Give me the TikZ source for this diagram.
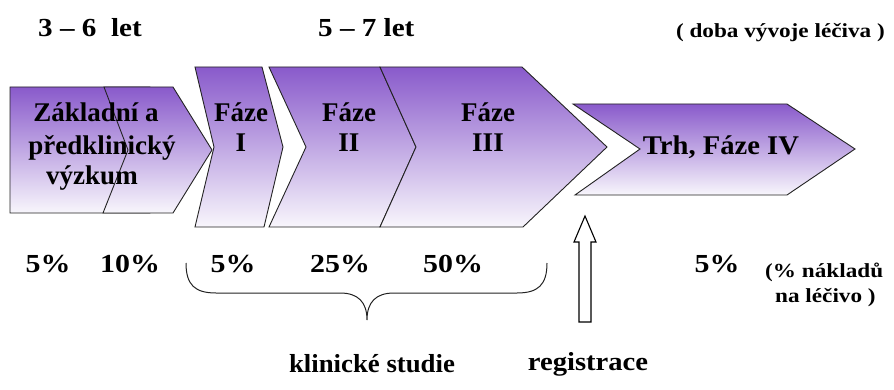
\documentclass[tikz,border=0pt]{standalone}
\usepackage{fontspec}
\setmainfont{Liberation Serif}
\begin{document}
\definecolor{vtop}{RGB}{137,90,203}
\definecolor{vbot}{RGB}{248,246,252}
\definecolor{edge}{RGB}{35,35,35}
\tikzset{
  phase/.style={draw=edge, line width=0.9pt, line join=miter, top color=vtop, bottom color=vbot},
  big/.style={font=\fontsize{27}{31}\selectfont\bfseries, inner sep=0pt},
  pct/.style={font=\fontsize{26}{30}\selectfont\bfseries\addfontfeature{FakeStretch=1.15}, inner sep=0pt},
  mid/.style={font=\fontsize{26}{30}\selectfont\bfseries\addfontfeature{FakeStretch=1.12}, inner sep=0pt},
  low/.style={font=\fontsize{26}{30}\selectfont\bfseries\addfontfeature{FakeStretch=1.03}, inner sep=0pt},
  small/.style={font=\fontsize{20}{24}\selectfont\bfseries\addfontfeature{FakeStretch=1.16}, inner sep=0pt},
  brace/.style={draw=edge, line width=1pt},
  regarrow/.style={draw=black, line width=1.1pt, fill=white}
}
\begin{tikzpicture}[x=1pt, y=-1pt]
\useasboundingbox (0,0) rectangle (894,390);
% shapes
\path[phase] (10,87) -- (150,87) -- (175,150) -- (150,213) -- (10,213) -- cycle;
\path[phase] (104,87) -- (173,87) -- (212,150) -- (173,213) -- (103,213) -- (128,150) -- cycle;
\path[phase] (195,67) -- (262,67) -- (283,147) -- (264,227) -- (195,227) -- (214,147) -- cycle;
\path[phase] (269,67) -- (380,67) -- (416,147) -- (380,227) -- (269,227) -- (306,147) -- cycle;
\path[phase] (380,67) -- (522,67) -- (607,147) -- (523,227) -- (380,227) -- (416,147) -- cycle;
\path[phase] (573,104) -- (787,104) -- (855,149) -- (787,195) -- (575,195) -- (640,149) -- cycle;
% shape texts
\node[big, anchor=base] (z1) at (96,122) {Základní a};
\node[big, anchor=base] (z2) at (102,155) {předklinický};
\node[big, anchor=base] (z3) at (92,185) {výzkum};
\node[big, anchor=base] (f1) at (241,122) {Fáze};
\node[big, anchor=base] (f1n) at (241,152) {I};
\node[big, anchor=base] (f2) at (349,122) {Fáze};
\node[big, anchor=base] (f2n) at (349,152) {II};
\node[big, anchor=base] (f3) at (488,122) {Fáze};
\node[big, anchor=base] (f3n) at (488,152) {III};
\node[big, anchor=base, font=\fontsize{27}{31}\selectfont\bfseries\addfontfeature{FakeStretch=1.06}] (f4) at (721,155) {Trh, Fáze IV};
% top texts
\node[mid, anchor=base west] (t1) at (38,37) {3 – 6\ \ let};
\node[mid, anchor=base west] (t2) at (318,37) {5 – 7 let};
\node[small, anchor=base east] (t3) at (885,38) {( doba vývoje léčiva )};
% percentages
\node[pct, anchor=base] (p1) at (48,272) {5\%};
\node[pct, anchor=base] (p2) at (130,272) {10\%};
\node[pct, anchor=base] (p3) at (233,272) {5\%};
\node[pct, anchor=base] (p4) at (340,272) {25\%};
\node[pct, anchor=base] (p5) at (453,272) {50\%};
\node[pct, anchor=base] (p6) at (717,272) {5\%};
\node[small, anchor=base west] (n1) at (765,277) {(\% nákladů};
\node[small, anchor=base west] (n2) at (775,302) {na léčivo )};
% brace
\draw[brace] (186,263) .. controls (186,285) and (195,293) .. (216,293) -- (340,293)
  .. controls (358,293) and (367,302) .. (367,320)
  .. controls (367,302) and (376,293) .. (394,293) -- (517,293)
  .. controls (538,293) and (547,285) .. (547,263);
% registration arrow
\path[regarrow] (579,322) -- (579,242) -- (574,242) -- (585,216) -- (596,242) -- (591,242) -- (591,322) -- cycle;
% bottom labels
\node[low, anchor=base] (k) at (372,372) {klinické studie};
\node[low, anchor=base, font=\fontsize{26}{30}\selectfont\bfseries\addfontfeature{FakeStretch=1.1}] (r) at (588,370) {registrace};
\end{tikzpicture}
\end{document}
